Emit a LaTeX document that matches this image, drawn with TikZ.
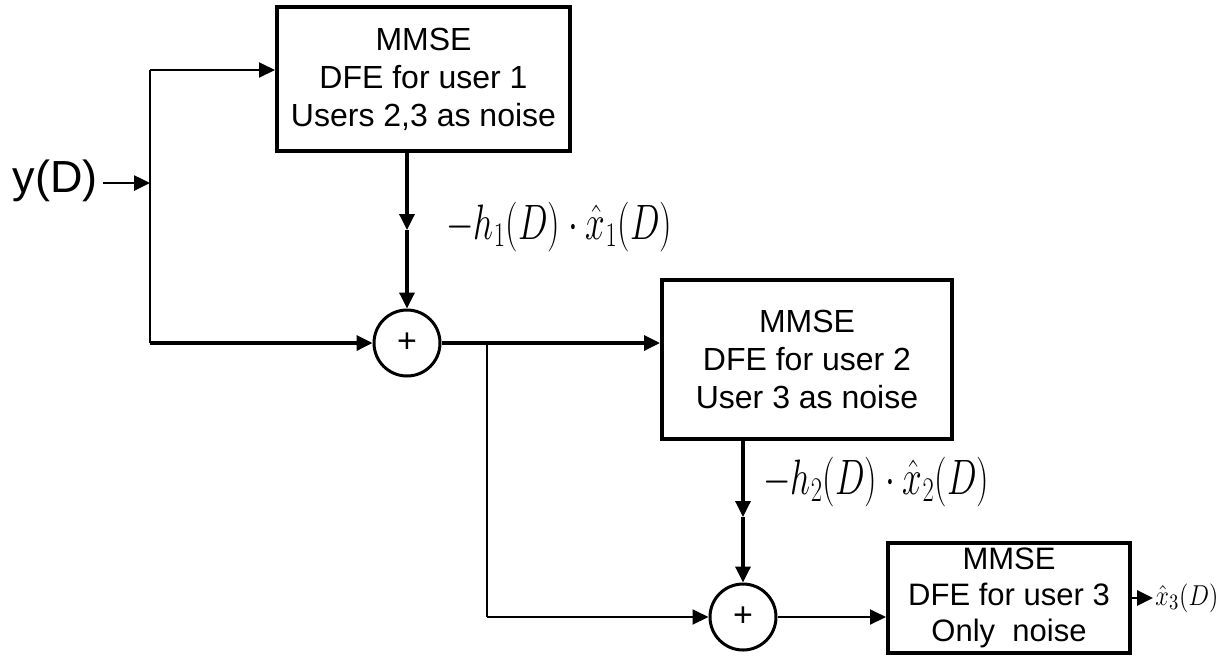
\documentclass[tikz,border=0pt]{standalone}
\usepackage{fontspec}
\setmainfont{Liberation Sans}
\usetikzlibrary{arrows.meta}
\tikzset{
  blk/.style={draw, line width=2pt, inner sep=0pt, align=center,
    font=\fontsize{16}{19}\selectfont},
  sum/.style={draw, circle, line width=1.5pt, inner sep=0pt, minimum size=33pt,
    font=\fontsize{17}{17}\selectfont},
  thk/.style={line width=1.7pt},
  thn/.style={line width=1pt},
  arr/.style={-{Triangle[length=8pt,width=7.5pt]}},
  mlab/.style={anchor=west, inner sep=0pt, font=\fontsize{24}{28}\selectfont},
}
\newcommand{\hs}[2]{\scalebox{#1}[1]{#2}}
\begin{document}
\begin{tikzpicture}[x=0.5pt,y=-0.5pt]
\useasboundingbox (0,0) rectangle (1228,655);
% nodes
\node[anchor=east, inner sep=0pt, font=\fontsize{22.5}{26}\selectfont] (yD) at (98,181) {y(D)};
\node[blk, minimum width=146.5pt, minimum height=72pt] (b1) at (423.5,79)
  {MMSE\\DFE for user 1\\Users 2,3 as noise};
\node[blk, minimum width=145pt, minimum height=79.5pt] (b2) at (807,359.5)
  {MMSE\\DFE for user 2\\User 3 as noise};
\node[blk, minimum width=121pt, minimum height=55pt, font=\fontsize{15.5}{18}\selectfont] (b3) at (1009,598)
  {MMSE\\DFE for user 3\\Only\ \ noise};
\node[sum] (c1) at (407,343) {+};
\node[sum] (c2) at (743,617) {+};
% coordinates
\coordinate (sp) at (150,183);
\coordinate (tl) at (150,70);
\coordinate (bl) at (150,343);
\coordinate (m1) at (407,230);
\coordinate (br) at (487,343);
\coordinate (bb) at (487,617);
\coordinate (m2) at (743,517);
\coordinate (out) at (1153,598);
% labels
\node[mlab] (l1) at (446,227) {\hs{0.71}{$-h_1(D)\cdot \hat{x}_1(D)$}};
\node[mlab] (l2) at (763,482) {\hs{0.71}{$-h_2(D)\cdot \hat{x}_2(D)$}};
\node[anchor=west, inner sep=0pt, font=\fontsize{15}{17}\selectfont] (l3) at (1155,598) {\hs{0.85}{$\hat{x}_3(D)$}};
% connectors
\draw[arr, line width=1.3pt] (yD.east) ++(5,2) -- (sp);
\draw[thn] (tl) -- (bl);
\draw[thn, arr] (tl) -- (tl -| b1.west);
\draw[thk, arr] (bl) -- (c1.west);
\draw[thk, arr] (c1.north |- b1.south) -- (m1);
\draw[thk, arr] (m1) -- (c1.north);
\draw[thk, arr] (c1.east) -- (c1.east -| b2.west);
\draw[line width=1.4pt] (br) -- (bb);
\draw[thn, arr] (bb) -- (c2.west);
\draw[thk, arr] (c2.north |- b2.south) -- (m2);
\draw[thk, arr] (m2) -- (c2.north);
\draw[thn, arr] (c2.east) -- (c2.east -| b3.west);
\draw[line width=1.4pt, arr] (b3.east) -- (out);
\end{tikzpicture}
\end{document}
